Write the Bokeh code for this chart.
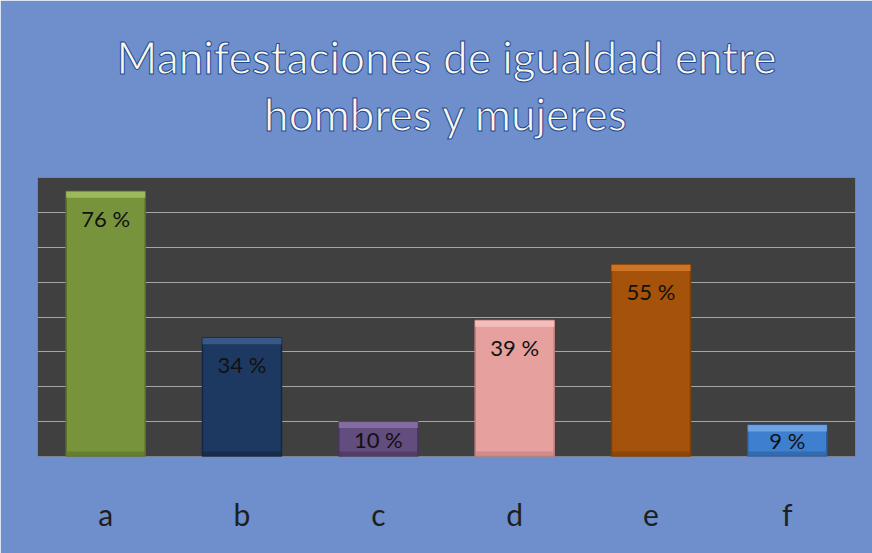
from bokeh.plotting import figure
from bokeh.models import Range1d, Title, SingleIntervalTicker, FactorRange
from bokeh.core.properties import value
from bokeh.embed import file_html
from bokeh.resources import INLINE

# ---- data ----
categories = ["a", "b", "c", "d", "e", "f"]
percentages = [76, 34, 10, 39, 55, 9]
bar_colors = ["#77933C", "#1D3961", "#634C7E", "#E6A09E", "#A5520A", "#3E80CF"]
bevel_colors = ["#A3C160", "#3D5F8E", "#8A72A8", "#F4C4C2", "#D57A2C", "#76A8E6"]
edge_colors = ["#5A7229", "#122744", "#47365C", "#C07E7C", "#7E3E06", "#2A5E9E"]
title_lines = ["Manifestaciones de igualdad entre", "hombres y mujeres"]
label_texts = [f"{v} %" for v in percentages]

FONT = "Lato"

p = figure(
    width=872, height=553,
    x_range=FactorRange(*categories),
    y_range=Range1d(0, 80),
    output_backend="svg", toolbar_location=None, title=None,
    min_border_left=37, min_border_right=17, min_border_top=177, min_border_bottom=97,
)
p.border_fill_color = "#6E8FCB"
p.background_fill_color = "#404040"
p.outline_line_color = None

p.yaxis.visible = False
p.yaxis.ticker = SingleIntervalTicker(interval=10)
p.ygrid.ticker = SingleIntervalTicker(interval=10)
p.ygrid.grid_line_color = "#A6A6A6"
p.ygrid.grid_line_width = 1
p.xgrid.grid_line_color = None

p.xaxis.axis_line_color = None
p.xaxis.major_tick_line_color = None
p.xaxis.minor_tick_line_color = None
p.xaxis.major_label_text_font = FONT
p.xaxis.major_label_text_font_size = "30px"
p.xaxis.major_label_text_color = "#1E1E1E"
p.xaxis.major_label_standoff = 33

W = 0.58
bevel = 1.8  # data units (~6px)

p.vbar(x=categories, top=percentages, width=W, fill_color=bar_colors,
       line_color=edge_colors, line_width=1.5)
p.vbar(x=categories, top=percentages, bottom=[v - bevel for v in percentages],
       width=W, fill_color=bevel_colors, line_color=None, fill_alpha=0.85)
p.vbar(x=categories, top=[bevel * 0.8] * len(categories), bottom=0,
       width=W, fill_color=edge_colors, line_color=None, fill_alpha=0.6)

label_y = [v if v >= 20 else v / 2 for v in percentages]
label_off = [27 if v >= 20 else 0 for v in percentages]
p.text(x=categories, y=label_y, text=label_texts, y_offset=label_off,
       text_align="center", text_baseline="middle",
       text_font=value(FONT), text_font_size="22px", text_color="#111111")

# titles: added nearest-to-frame first (spacer, line 2, line 1)
spacer = Title(text=" ", align="center", text_font=FONT, text_font_size="20px",
               text_font_style="normal", standoff=10)
t2 = Title(text=title_lines[1], align="center", text_font=FONT, text_font_size="44px",
           text_font_style="normal", text_color="#FBF7EA", standoff=3)
t1 = Title(text=title_lines[0], align="center", text_font=FONT, text_font_size="44px",
           text_font_style="normal", text_color="#FBF7EA", standoff=3)
p.add_layout(spacer, "above")
for t in (t2, t1):
    try:
        t.text_outline_color = "#1C4A96"
    except AttributeError:
        pass
    p.add_layout(t, "above")

open("out.html", "w").write(file_html(p, INLINE))
